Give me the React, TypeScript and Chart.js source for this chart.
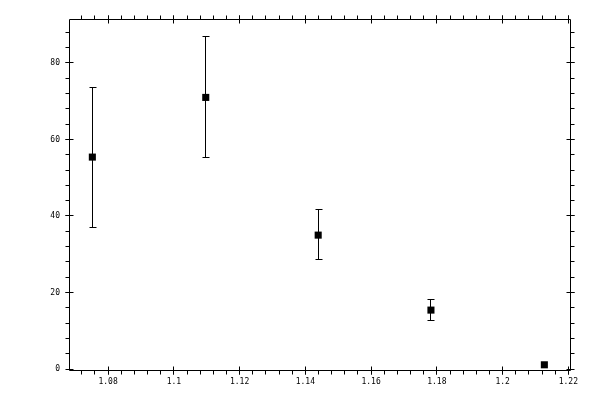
import { useEffect, useRef } from 'react';
import { Chart, registerables } from 'chart.js';

Chart.register(...registerables);

// measured points with asymmetric error bars
const xValues = [1.0752, 1.1097, 1.1439, 1.1782, 1.2127];
const yValues = [55.4, 71.0, 35.0, 15.4, 1.1];
const yHigh = [73.7, 87.0, 41.8, 18.1, 1.1];
const yLow = [37.1, 55.2, 28.5, 12.6, 1.1];

const xTicks = [1.08, 1.1, 1.12, 1.14, 1.16, 1.18, 1.2, 1.22];
const yTicks = [0, 20, 40, 60, 80];
const xMinorStep = 0.004;
const yMinorStep = 4;

const xMin = 1.0681;
const xMax = 1.2205;
const yMin = -0.26;
const yMax = 91.5;

const FONT = { family: "'DejaVu Sans Mono', monospace", size: 8 };

const px = (v: number) => Math.floor(v) + 0.5;

const framePlugin = {
    id: 'frame',
    beforeDatasetsDraw(chart: any) {
        const { ctx, scales } = chart;
        const xs = scales.x;
        const ys = scales.y;
        ctx.save();
        ctx.strokeStyle = '#000';
        ctx.lineWidth = 1;
        ctx.beginPath();
        xValues.forEach((x, i) => {
            const cx = px(xs.getPixelForValue(x));
            const top = px(ys.getPixelForValue(yHigh[i]));
            const bot = px(ys.getPixelForValue(yLow[i]));
            if (bot - top < 2) return;
            ctx.moveTo(cx, top);
            ctx.lineTo(cx, bot);
            ctx.moveTo(cx - 3, top);
            ctx.lineTo(cx + 4, top);
            ctx.moveTo(cx - 3, bot);
            ctx.lineTo(cx + 4, bot);
        });
        ctx.stroke();
        ctx.restore();
    },
    afterDraw(chart: any) {
        const { ctx, chartArea, scales } = chart;
        const xs = scales.x;
        const ys = scales.y;
        const l = px(chartArea.left);
        const r = px(chartArea.right);
        const t = px(chartArea.top);
        const b = px(chartArea.bottom);
        ctx.save();
        ctx.strokeStyle = '#000';
        ctx.lineWidth = 1;
        ctx.beginPath();
        ctx.rect(l, t, r - l, b - t);

        // minor ticks, outside only
        for (let v = xTicks[0] - xMinorStep * 2; v <= xMax; v += xMinorStep) {
            if (v < xMin) continue;
            const x = px(xs.getPixelForValue(v));
            ctx.moveTo(x, b);
            ctx.lineTo(x, b + 4);
            ctx.moveTo(x, t);
            ctx.lineTo(x, t - 4);
        }
        for (let v = yMinorStep; v <= yMax; v += yMinorStep) {
            const y = px(ys.getPixelForValue(v));
            ctx.moveTo(l, y);
            ctx.lineTo(l - 4, y);
            ctx.moveTo(r, y);
            ctx.lineTo(r + 4, y);
        }
        // major ticks, both sides
        xTicks.forEach((v) => {
            const x = px(xs.getPixelForValue(v));
            ctx.moveTo(x, b - 4);
            ctx.lineTo(x, b + 4);
            ctx.moveTo(x, t - 4);
            ctx.lineTo(x, t + 4);
        });
        yTicks.forEach((v) => {
            const y = px(ys.getPixelForValue(v));
            ctx.moveTo(l - 4, y);
            ctx.lineTo(l + 4, y);
            ctx.moveTo(r - 4, y);
            ctx.lineTo(r + 4, y);
        });
        ctx.stroke();
        ctx.restore();
    },
};

const App = () => {
    const chartRef = useRef<HTMLCanvasElement | null>(null);

    useEffect(() => {
        if (!chartRef.current) return;
        const chart = new Chart(chartRef.current, {
            type: 'scatter',
            data: {
                datasets: [
                    {
                        data: xValues.map((x, i) => ({ x, y: yValues[i] })),
                        pointStyle: 'rect',
                        radius: 5,
                        backgroundColor: '#000',
                        borderColor: '#000',
                        borderWidth: 0,
                    },
                ],
            },
            options: {
                animation: false,
                responsive: false,
                devicePixelRatio: 1,
                layout: { padding: { top: 19, right: 30, left: 0, bottom: 0 } },
                plugins: { legend: { display: false }, tooltip: { enabled: false } },
                scales: {
                    x: {
                        type: 'linear',
                        min: xMin,
                        max: xMax,
                        grid: { display: false, drawTicks: false },
                        border: { display: false },
                        afterBuildTicks: (s: any) => {
                            s.ticks = xTicks.map((value) => ({ value }));
                        },
                        afterFit: (s: any) => {
                            s.height = 30;
                        },
                        ticks: {
                            color: '#000',
                            font: FONT,
                            padding: 7,
                            maxRotation: 0,
                            autoSkip: false,
                            callback: (v: any) => String(v),
                        },
                    },
                    y: {
                        type: 'linear',
                        min: yMin,
                        max: yMax,
                        grid: { display: false, drawTicks: false },
                        border: { display: false },
                        afterBuildTicks: (s: any) => {
                            s.ticks = yTicks.map((value) => ({ value }));
                        },
                        afterFit: (s: any) => {
                            s.width = 69;
                        },
                        ticks: {
                            color: '#000',
                            font: FONT,
                            padding: 9,
                            autoSkip: false,
                            callback: (v: any) => String(v),
                        },
                    },
                },
            },
            plugins: [framePlugin],
        });

        return () => {
            chart.destroy();
        };
    }, []);

    return (
        <div style={{ position: 'fixed', left: 0, top: 0, width: 600, height: 400, background: '#fff' }}>
            <canvas ref={chartRef} width={600} height={400} />
        </div>
    );
};

export default App;
